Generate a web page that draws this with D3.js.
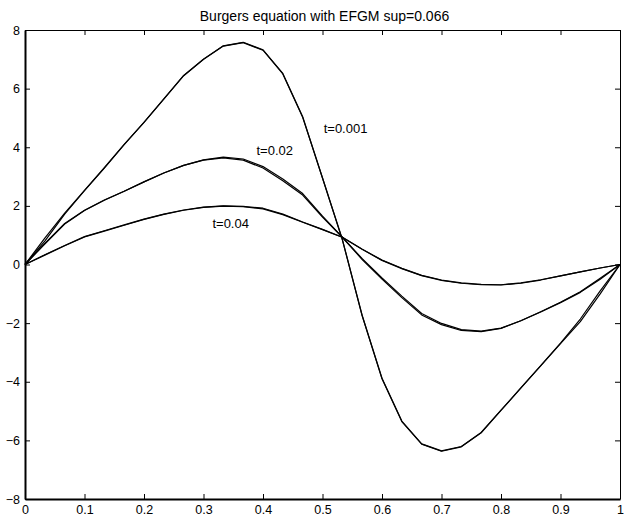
<!DOCTYPE html>
<html>
<head>
<meta charset="utf-8">
<script src="https://cdn.jsdelivr.net/npm/d3@7"></script>
<style>
  body { margin: 0; background: #fff; }
  text { font-family: "Liberation Sans", Arial, sans-serif; }
</style>
</head>
<body>
<div id="chart"></div>
<script>
// nodes of the grid (step 1/30)
const xs = [0, 0.0333, 0.0667, 0.1, 0.1333, 0.1667, 0.2, 0.2333, 0.2667, 0.3, 0.3333,
  0.3667, 0.4, 0.4333, 0.4667, 0.5, 0.5333, 0.5667, 0.6, 0.6333, 0.6667,
  0.7, 0.7333, 0.7667, 0.8, 0.8333, 0.8667, 0.9, 0.9333, 0.9667, 1];

// exact solution and EFGM approximation
const exact001 = [0, 0.9, 1.75, 2.53, 3.3, 4.1, 4.85, 5.65, 6.45, 7.0, 7.46,
  7.58, 7.32, 6.52, 5.04, 2.95, 0.85, -1.75, -3.9, -5.36, -6.13,
  -6.37, -6.22, -5.74, -4.98, -4.22, -3.46, -2.7, -1.95, -1.0, 0];
const efgm001 = [0, 0.8, 1.72, 2.52, 3.29, 4.09, 4.85, 5.64, 6.44, 7.0, 7.45,
  7.57, 7.31, 6.5, 5.02, 2.95, 0.86, -1.74, -3.88, -5.34, -6.12,
  -6.36, -6.21, -5.73, -4.97, -4.21, -3.45, -2.68, -1.86, -0.9, 0];

const exact02 = [0, 0.72, 1.4, 1.85, 2.2, 2.5, 2.82, 3.12, 3.38, 3.57, 3.66,
  3.6, 3.34, 2.92, 2.42, 1.65, 0.93, 0.17, -0.5, -1.13, -1.72,
  -2.05, -2.25, -2.29, -2.18, -1.92, -1.61, -1.29, -0.93, -0.47, 0];
const efgm02 = [0, 0.7, 1.38, 1.84, 2.19, 2.5, 2.82, 3.12, 3.38, 3.56, 3.64,
  3.56, 3.29, 2.86, 2.37, 1.62, 0.93, 0.2, -0.46, -1.08, -1.67,
  -2.01, -2.22, -2.27, -2.17, -1.92, -1.62, -1.3, -0.95, -0.5, 0];

const exact04 = [0, 0.33, 0.65, 0.95, 1.15, 1.35, 1.55, 1.72, 1.86, 1.96, 2.0,
  1.98, 1.92, 1.72, 1.45, 1.2, 0.93, 0.52, 0.14, -0.14, -0.38,
  -0.54, -0.64, -0.69, -0.7, -0.64, -0.53, -0.39, -0.25, -0.12, 0];
const efgm04 = [0, 0.32, 0.64, 0.94, 1.14, 1.34, 1.54, 1.71, 1.85, 1.95, 1.99,
  1.97, 1.9, 1.7, 1.44, 1.19, 0.93, 0.52, 0.15, -0.13, -0.37,
  -0.53, -0.63, -0.68, -0.69, -0.63, -0.52, -0.39, -0.25, -0.12, 0];

const xTicks = [0, 0.1, 0.2, 0.3, 0.4, 0.5, 0.6, 0.7, 0.8, 0.9, 1];
const yTicks = [-8, -6, -4, -2, 0, 2, 4, 6, 8];

const labels = ["t=0.001", "t=0.02", "t=0.04"];
const labelAt = [[0.502, 4.49], [0.389, 3.74], [0.315, 1.25]];

const title = "Burgers equation with EFGM sup=0.066";

let width = 634,
    height = 519;
let margin = {top: 30, right: 14, bottom: 20, left: 25};

let svg = d3.select("#chart").append("svg")
  .attr("width", width)
  .attr("height", height);

let x = d3.scaleLinear().domain([0, 1]).range([margin.left, width - margin.right]);
let y = d3.scaleLinear().domain([-8, 8]).range([height - margin.bottom, margin.top]);

let fmt = d => d3.format("")(d).replace("-", "\u2212");

// axes, ticks pointing inward like matlab
let axBottom = svg.append("g")
  .attr("transform", `translate(0,${y(-8)})`)
  .call(d3.axisBottom(x).tickValues(xTicks).tickSizeInner(-5).tickSizeOuter(0).tickPadding(6).tickFormat(fmt));
let axLeft = svg.append("g")
  .attr("transform", `translate(${x(0)},0)`)
  .call(d3.axisLeft(y).tickValues(yTicks).tickSizeInner(-5).tickSizeOuter(0).tickPadding(5).tickFormat(fmt));
let axTop = svg.append("g")
  .attr("transform", `translate(0,${y(8)})`)
  .call(d3.axisTop(x).tickValues(xTicks).tickSizeInner(-5).tickSizeOuter(0).tickFormat(""));
let axRight = svg.append("g")
  .attr("transform", `translate(${x(1)},0)`)
  .call(d3.axisRight(y).tickValues(yTicks).tickSizeInner(-5).tickSizeOuter(0).tickFormat(""));

[axBottom, axLeft, axTop, axRight].forEach(g => {
  g.selectAll("text").attr("font-size", 12.5).attr("font-family", "Liberation Sans, Arial, sans-serif").attr("fill", "#000");
  g.selectAll("line").attr("stroke", "#000");
  g.select(".domain").attr("stroke", "#000");
});
axBottom.select(".domain").attr("stroke-width", 2);
axLeft.select(".domain").attr("stroke-width", 2);

let line = d3.line()
  .x((d, i) => x(xs[i]))
  .y(d => y(d));

let series = [exact001, efgm001, exact02, efgm02, exact04, efgm04];

svg.append("g")
  .selectAll("path")
  .data(series)
  .enter().append("path")
    .attr("d", line)
    .attr("fill", "none")
    .attr("stroke", "#000")
    .attr("stroke-width", 1.2)
    .attr("stroke-linejoin", "round");

svg.append("g")
  .selectAll("text")
  .data(labels)
  .enter().append("text")
    .attr("x", (d, i) => x(labelAt[i][0]))
    .attr("y", (d, i) => y(labelAt[i][1]))
    .attr("font-size", 13)
    .text(d => d);

svg.append("text")
  .attr("x", (x(0) + x(1)) / 2 + 2)
  .attr("y", 21)
  .attr("text-anchor", "middle")
  .attr("font-size", 14)
  .text(title);
</script>
</body>
</html>
